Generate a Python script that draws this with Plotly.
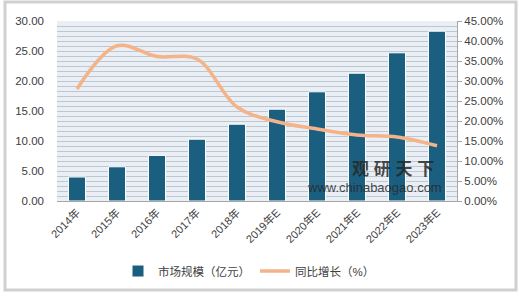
import plotly.graph_objects as go

categories = ["2014年", "2015年", "2016年", "2017年", "2018年",
              "2019年E", "2020年E", "2021年E", "2022年E", "2023年E"]
market_size = [4.0, 5.7, 7.6, 10.3, 12.8, 15.3, 18.2, 21.3, 24.7, 28.3]
growth_pct = [28.0, 38.8, 36.1, 35.5, 23.5, 19.8, 18.0, 16.5, 16.0, 13.8]

left_ticks = [0, 5, 10, 15, 20, 25, 30]
right_ticks = [0, 5, 10, 15, 20, 25, 30, 35, 40, 45]

FONT = "Liberation Sans, Noto Sans CJK SC, sans-serif"
TXT = "#404040"

fig = go.Figure()
fig.add_trace(go.Bar(
    x=categories, y=market_size, name="市场规模（亿元）",
    marker=dict(color="#1B5F80", line=dict(color="white", width=1)),
    yaxis="y",
))
fig.add_trace(go.Scatter(
    x=categories, y=growth_pct, name="同比增长（%）", mode="lines",
    line=dict(color="#F5B38A", width=3.5, shape="spline", smoothing=1.0),
    yaxis="y2",
))

fig.update_layout(
    width=520, height=300,
    margin=dict(l=57, r=63, t=21, b=99, autoexpand=False),
    paper_bgcolor="white",
    plot_bgcolor="#E9EFF4",
    bargap=0.575,
    font=dict(family=FONT, size=11, color=TXT),
    xaxis=dict(
        tickangle=-45, showgrid=False, showline=True, linecolor="#A6A6A6",
        linewidth=1, ticks="", tickfont=dict(size=11, color=TXT),
        automargin=False,
    ),
    yaxis=dict(
        range=[0, 30], tickvals=left_ticks,
        ticktext=[f"{v:.2f}" for v in left_ticks],
        showgrid=True, gridcolor="#BEC7D0", gridwidth=1,
        minor=dict(dtick=5 / 6, showgrid=True, gridcolor="#BEC7D0", gridwidth=1),
        zeroline=False, showline=False, ticks="", ticklabelstandoff=12,
        tickfont=dict(size=11.5, color=TXT), automargin=False,
    ),
    yaxis2=dict(
        range=[0, 45], tickvals=right_ticks,
        ticktext=[f"{v:.2f}%" for v in right_ticks],
        overlaying="y", side="right", showgrid=False, zeroline=False,
        showline=True, linecolor="#A6A6A6", linewidth=1,
        ticks="outside", ticklen=4, tickcolor="#A6A6A6",
        tickfont=dict(size=11.5, color=TXT), automargin=False,
    ),
    legend=dict(
        orientation="h", x=0.48, xanchor="center", y=-0.389, yanchor="middle",
        bgcolor="white", font=dict(size=11.5, color=TXT),
    ),
    shapes=[
        dict(type="rect", xref="paper", yref="paper",
             x0=-0.13, x1=1.1475, y0=-0.494, y1=1.106,
             line=dict(color="#D0D0D0", width=3), layer="below"),
    ],
    annotations=[
        dict(text="<b>观 研 天 下</b>", xref="x", yref="y", x=7.9, y=5.3,
             showarrow=False, font=dict(size=17, color="rgba(40,40,40,0.85)")),
        dict(text="www.chinabaogao.com", xref="x", yref="y", x=5.7, y=2.3,
             xanchor="left", showarrow=False,
             font=dict(size=13, color="rgba(40,40,40,0.85)")),
    ],
)

fig.write_html("out.html")
